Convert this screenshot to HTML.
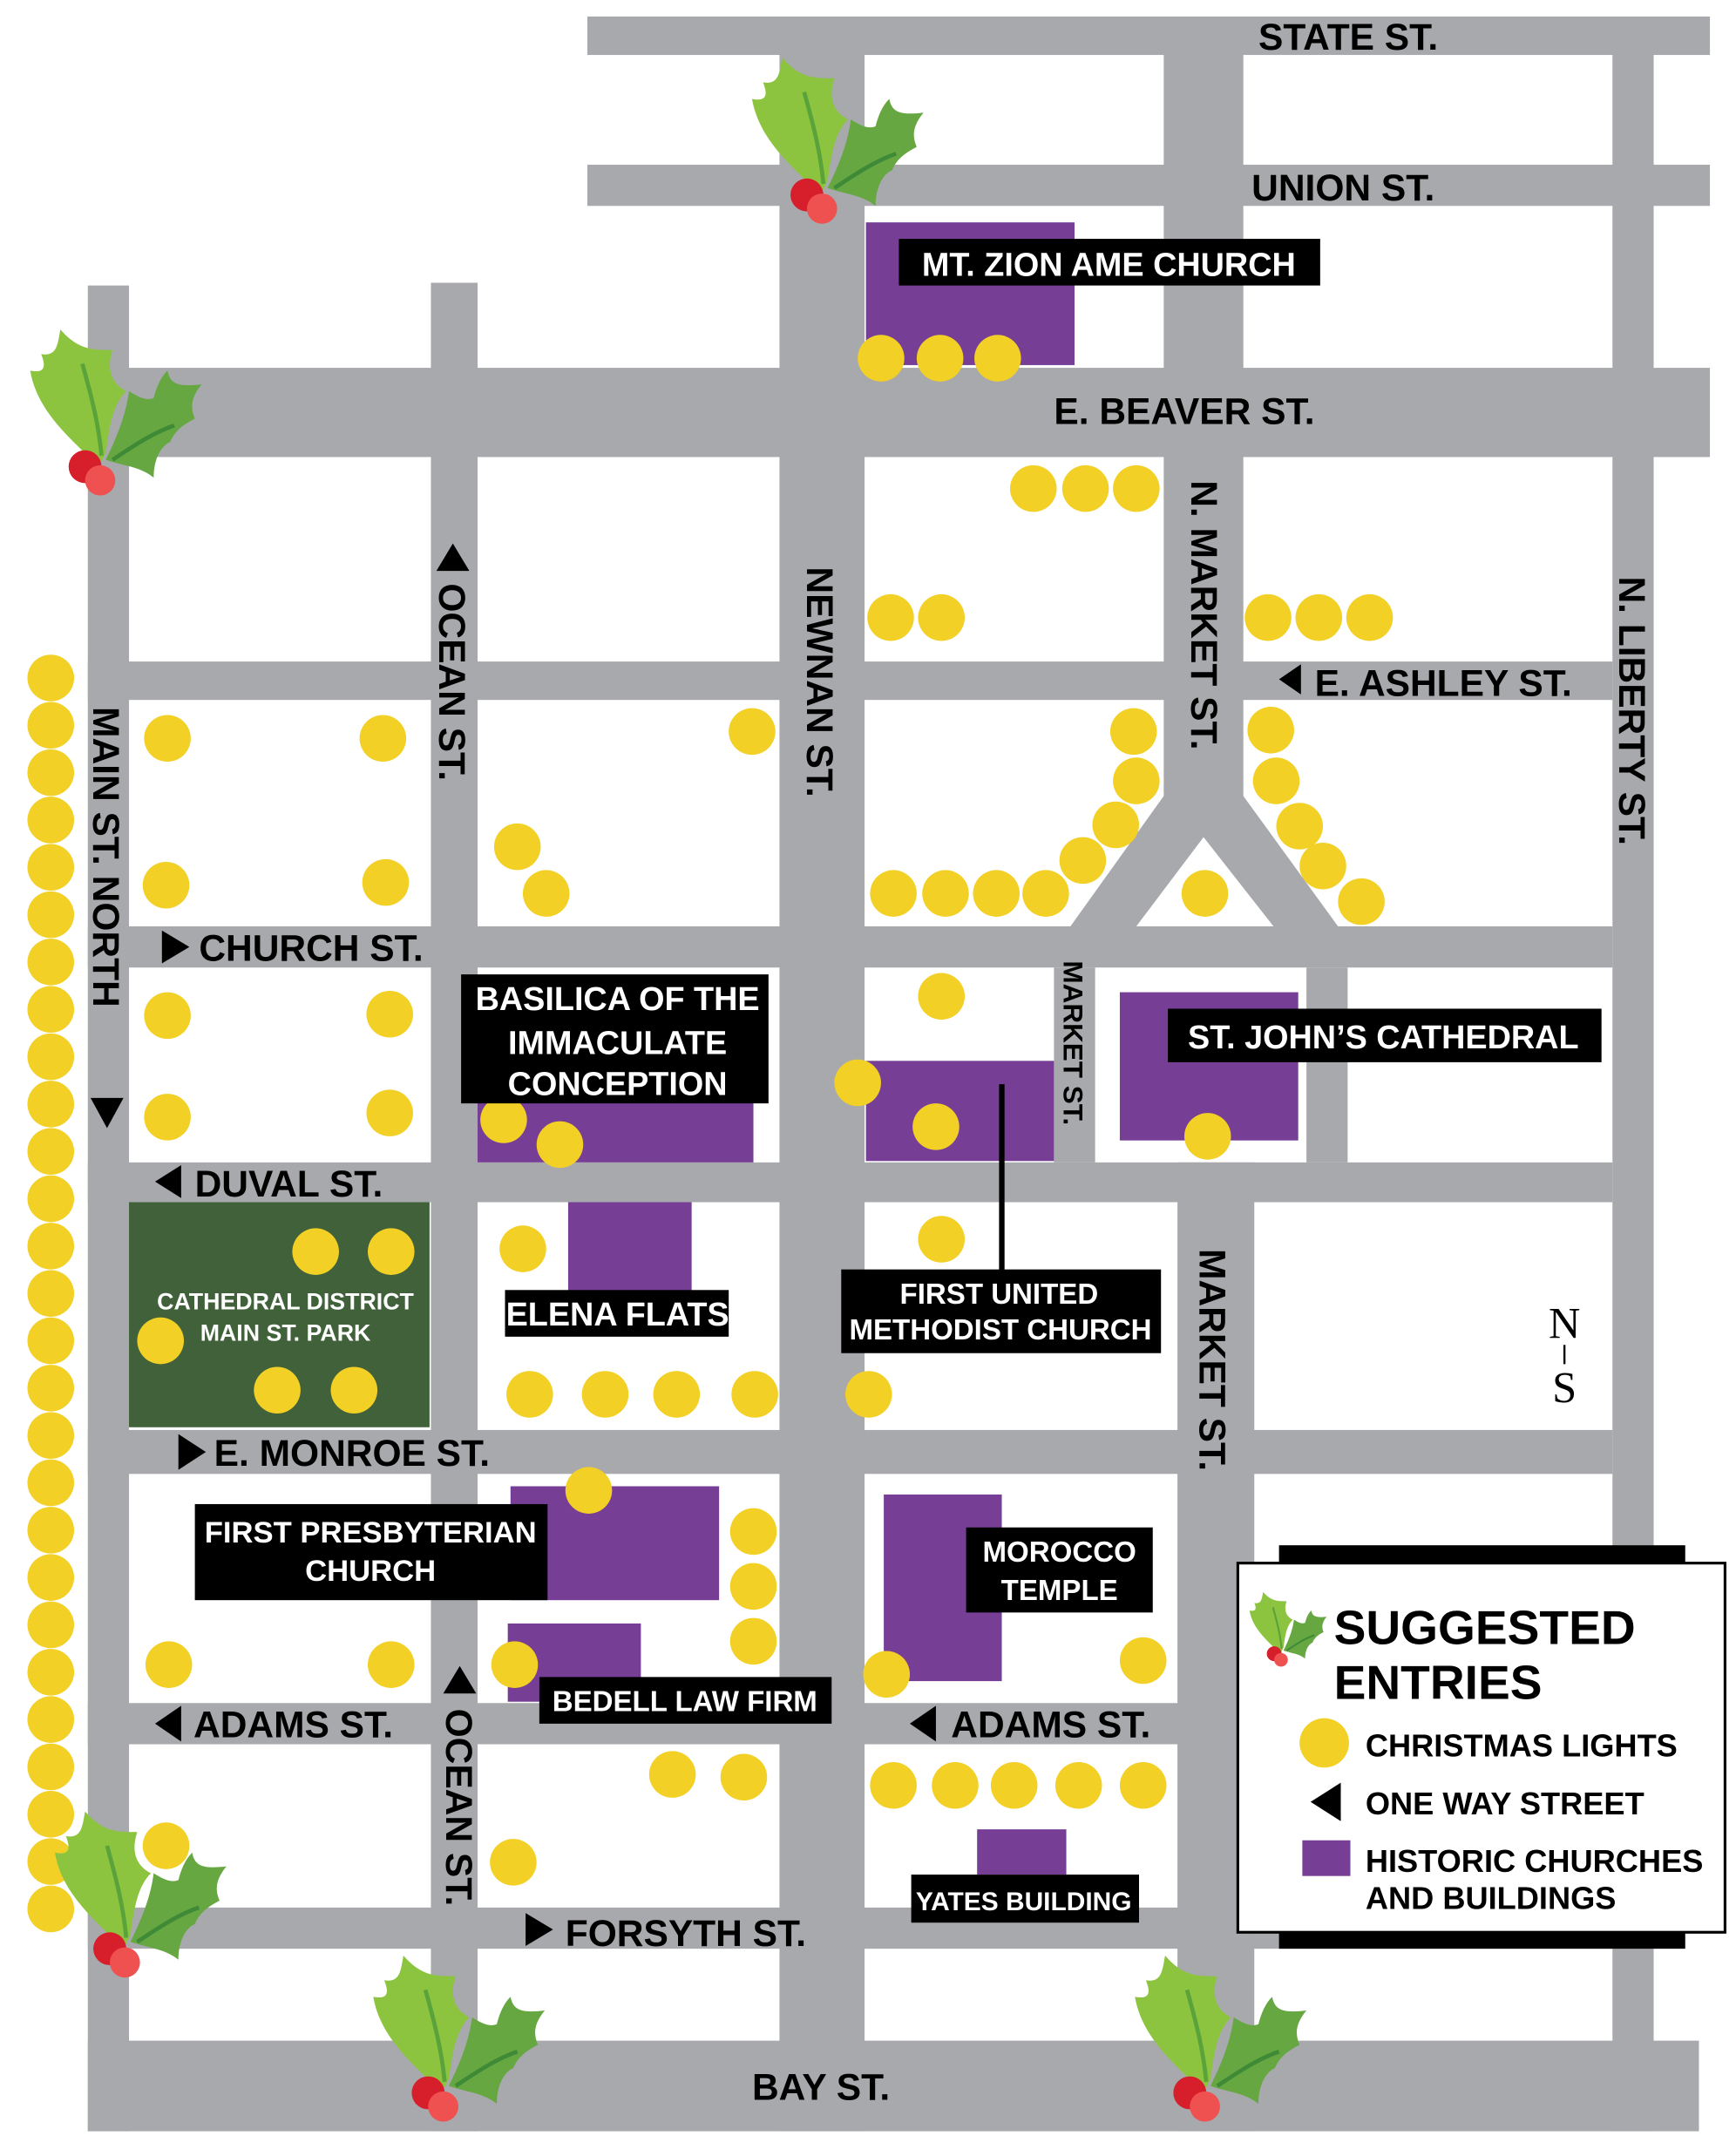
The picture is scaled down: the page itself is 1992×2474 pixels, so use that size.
<!DOCTYPE html>
<html><head><meta charset="utf-8"><style>
html,body{margin:0;padding:0;background:#fff}
svg{display:block}
text{font-family:"Liberation Sans",sans-serif;font-weight:bold}
</style></head><body>
<svg width="1992" height="2474" viewBox="0 0 1265 1571" xmlns="http://www.w3.org/2000/svg">
<defs>
<g id="holly">
<path d="M0,0 C-20,-20 -45,-40 -50,-70 C-40,-68 -38,-72 -42,-82 C-30,-80 -30,-90 -28,-100 C-15,-85 -5,-85 10,-85 C5,-70 10,-60 20,-55 C10,-45 8,-30 5,-10 Z" fill="#8cc440"/>
<path d="M-12,-75 C-5,-50 0,-30 2,-8" stroke="#5aa23a" stroke-width="3" fill="none"/>
<path d="M5,-5 C15,-25 20,-40 22,-55 C30,-50 35,-48 40,-50 C42,-58 45,-65 50,-70 C52,-60 58,-58 75,-60 C65,-48 68,-40 70,-35 C60,-30 55,-25 52,-18 C45,-15 40,-5 40,8 C30,0 20,0 5,-5 Z" fill="#66a742"/>
<path d="M10,-5 C25,-15 40,-25 55,-30" stroke="#3f8a36" stroke-width="3" fill="none"/>
<circle cx="-10" cy="0" r="12" fill="#d71f2c"/>
<circle cx="1" cy="10" r="11" fill="#ef5050"/>
</g>
</defs>
<g fill="#a7a9ac">
<rect x="428" y="12" width="818" height="28"/>
<rect x="428" y="120" width="818" height="30"/>
<rect x="64" y="268" width="1182" height="65"/>
<rect x="64" y="482" width="1111" height="28"/>
<rect x="64" y="675" width="1111" height="30"/>
<rect x="64" y="847" width="1111" height="29"/>
<rect x="64" y="1042" width="1111" height="32"/>
<rect x="64" y="1241" width="1111" height="30"/>
<rect x="64" y="1390" width="1111" height="30"/>
<rect x="64" y="1487" width="1174" height="66"/>
<rect x="64" y="208" width="30" height="1345"/>
<rect x="314" y="206" width="34" height="1347"/>
<rect x="568" y="12" width="62" height="1541"/>
<rect x="848" y="12" width="58" height="580"/>
<polygon points="848,580 906,580 975,675 928,675 877,610 828,675 780,675"/>
<rect x="768" y="705" width="30" height="142"/>
<rect x="952" y="705" width="30" height="142"/>
<rect x="858" y="847" width="56" height="706"/>
<rect x="1175" y="12" width="30" height="1541"/>
</g>
<rect x="94" y="876" width="219" height="164" fill="#40613a"/>
<g fill="#773e96">
<rect x="631" y="162" width="152" height="104"/>
<rect x="348" y="800" width="201" height="47"/>
<rect x="631" y="773" width="137" height="73"/>
<rect x="816" y="723" width="130" height="108"/>
<rect x="414" y="876" width="90" height="69"/>
<rect x="372" y="1083" width="152" height="83"/>
<rect x="370" y="1183" width="97" height="57"/>
<rect x="644" y="1089" width="86" height="136"/>
<rect x="712" y="1333" width="65" height="33"/>
</g>
<line x1="730" y1="790" x2="730" y2="926" stroke="#000" stroke-width="4"/>
<g fill="#f2d026">
<circle cx="37" cy="494" r="17"/><circle cx="37" cy="528.5" r="17"/><circle cx="37" cy="563" r="17"/><circle cx="37" cy="597.5" r="17"/><circle cx="37" cy="632" r="17"/><circle cx="37" cy="666.5" r="17"/><circle cx="37" cy="701" r="17"/><circle cx="37" cy="735.5" r="17"/><circle cx="37" cy="770" r="17"/><circle cx="37" cy="804.5" r="17"/><circle cx="37" cy="839" r="17"/><circle cx="37" cy="873.5" r="17"/><circle cx="37" cy="908" r="17"/><circle cx="37" cy="942.5" r="17"/><circle cx="37" cy="977" r="17"/><circle cx="37" cy="1011.5" r="17"/><circle cx="37" cy="1046" r="17"/><circle cx="37" cy="1080.5" r="17"/><circle cx="37" cy="1115" r="17"/><circle cx="37" cy="1149.5" r="17"/><circle cx="37" cy="1184" r="17"/><circle cx="37" cy="1218.5" r="17"/><circle cx="37" cy="1253" r="17"/><circle cx="37" cy="1287.5" r="17"/><circle cx="37" cy="1322" r="17"/><circle cx="37" cy="1356.5" r="17"/><circle cx="37" cy="1391" r="17"/>
<circle cx="642" cy="261" r="17"/><circle cx="685" cy="261" r="17"/><circle cx="727" cy="261" r="17"/>
<circle cx="753" cy="356" r="17"/><circle cx="791" cy="356" r="17"/><circle cx="828" cy="356" r="17"/>
<circle cx="649" cy="450" r="17"/><circle cx="686" cy="450" r="17"/>
<circle cx="924" cy="450" r="17"/><circle cx="961" cy="450" r="17"/><circle cx="998" cy="450" r="17"/>
<circle cx="122" cy="538" r="17"/><circle cx="279" cy="538" r="17"/><circle cx="548" cy="533" r="17"/>
<circle cx="121" cy="645" r="17"/><circle cx="281" cy="643" r="17"/>
<circle cx="377" cy="617" r="17"/><circle cx="398" cy="651" r="17"/>
<circle cx="826" cy="533" r="17"/><circle cx="828" cy="569" r="17"/><circle cx="813" cy="601" r="17"/><circle cx="789" cy="627" r="17"/><circle cx="762" cy="651" r="17"/><circle cx="726" cy="651" r="17"/><circle cx="689" cy="651" r="17"/><circle cx="651" cy="651" r="17"/>
<circle cx="926" cy="532" r="17"/><circle cx="930" cy="569" r="17"/><circle cx="947" cy="602" r="17"/><circle cx="964" cy="631" r="17"/><circle cx="992" cy="657" r="17"/>
<circle cx="878" cy="651" r="17"/>
<circle cx="122" cy="740" r="17"/><circle cx="284" cy="739" r="17"/><circle cx="122" cy="814" r="17"/><circle cx="284" cy="811" r="17"/>
<circle cx="686" cy="726" r="17"/><circle cx="625" cy="789" r="17"/><circle cx="682" cy="821" r="17"/>
<circle cx="367" cy="816" r="17"/><circle cx="408" cy="834" r="17"/>
<circle cx="880" cy="828" r="17"/>
<circle cx="230" cy="912" r="17"/><circle cx="285" cy="912" r="17"/><circle cx="117" cy="977" r="17"/><circle cx="202" cy="1013" r="17"/><circle cx="258" cy="1013" r="17"/>
<circle cx="381" cy="910" r="17"/><circle cx="386" cy="1016" r="17"/><circle cx="441" cy="1016" r="17"/><circle cx="493" cy="1016" r="17"/><circle cx="550" cy="1016" r="17"/><circle cx="633" cy="1016" r="17"/>
<circle cx="686" cy="903" r="17"/>
<circle cx="429" cy="1086" r="17"/><circle cx="549" cy="1116" r="17"/><circle cx="549" cy="1156" r="17"/><circle cx="549" cy="1196" r="17"/>
<circle cx="375" cy="1213" r="17"/><circle cx="123" cy="1213" r="17"/><circle cx="285" cy="1213" r="17"/>
<circle cx="646" cy="1220" r="17"/><circle cx="833" cy="1210" r="17"/>
<circle cx="490" cy="1293" r="17"/><circle cx="542" cy="1295" r="17"/>
<circle cx="651" cy="1301" r="17"/><circle cx="696" cy="1301" r="17"/><circle cx="739" cy="1301" r="17"/><circle cx="786" cy="1301" r="17"/><circle cx="833" cy="1301" r="17"/>
<circle cx="121" cy="1345" r="17"/><circle cx="374" cy="1357" r="17"/>
</g>
<g fill="#000">
<rect x="655" y="174" width="307" height="34"/>
<rect x="336" y="710" width="224" height="94"/>
<rect x="851" y="735" width="316" height="39"/>
<rect x="368" y="940" width="163" height="34"/>
<rect x="613" y="925" width="233" height="61"/>
<rect x="142" y="1096" width="257" height="70"/>
<rect x="393" y="1222" width="213" height="34"/>
<rect x="704" y="1113" width="136" height="62"/>
<rect x="664" y="1366" width="166" height="35"/>
</g>
<g fill="#fff" font-size="24" text-anchor="middle">
<text x="808" y="201">MT. ZION AME CHURCH</text>
<text x="450" y="736">BASILICA OF THE</text>
<text x="450" y="768">IMMACULATE</text>
<text x="450" y="798">CONCEPTION</text>
<text x="1008" y="764">ST. JOHN’S CATHEDRAL</text>
<text x="450" y="966">ELENA FLATS</text>
<text x="728" y="950" font-size="21">FIRST UNITED</text>
<text x="729" y="976" font-size="21">METHODIST CHURCH</text>
<text x="270" y="1124" font-size="22">FIRST PRESBYTERIAN</text>
<text x="270" y="1152" font-size="22">CHURCH</text>
<text x="499" y="1247" font-size="21">BEDELL LAW FIRM</text>
<text x="772" y="1138" font-size="21">MOROCCO</text>
<text x="772" y="1166" font-size="21">TEMPLE</text>
<text x="746" y="1392" font-size="19">YATES BUILDING</text>
<text x="208" y="954" font-size="17">CATHEDRAL DISTRICT</text>
<text x="208" y="977" font-size="17">MAIN ST. PARK</text>
</g>
<g fill="#000" font-size="27">
<text x="917" y="36">STATE ST.</text>
<text x="912" y="146">UNION ST.</text>
<text x="768" y="309">E. BEAVER ST.</text>
<text x="958" y="507">E. ASHLEY ST.</text>
<text x="145" y="700">CHURCH ST.</text>
<text x="142" y="872">DUVAL ST.</text>
<text x="156" y="1068">E. MONROE ST.</text>
<text x="141" y="1266">ADAMS ST.</text>
<text x="693" y="1266">ADAMS ST.</text>
<text x="412" y="1418">FORSYTH ST.</text>
<text x="548" y="1530">BAY ST.</text>
<text transform="translate(68,515) rotate(90)">MAIN ST. NORTH</text>
<text transform="translate(320,425) rotate(90)">OCEAN ST.</text>
<text transform="translate(325,1245) rotate(90)">OCEAN ST.</text>
<text transform="translate(588,413) rotate(90)">NEWNAN ST.</text>
<text transform="translate(868,350) rotate(90)">N. MARKET ST.</text>
<text transform="translate(775,700) rotate(90)" font-size="20">MARKET ST.</text>
<text transform="translate(874,910) rotate(90)">MARKET ST.</text>
<text transform="translate(1180,420) rotate(90)">N. LIBERTY ST.</text>
</g>
<g fill="#000">
<polygon points="948,484 948,506 932,495"/>
<polygon points="118,678 118,702 138,690"/>
<polygon points="132,849 132,873 113,861"/>
<polygon points="130,1045 130,1071 150,1058"/>
<polygon points="132,1243 132,1269 113,1256"/>
<polygon points="682,1243 682,1269 663,1256"/>
<polygon points="383,1394 383,1418 403,1406"/>
<polygon points="66,800 90,800 78,822"/>
<polygon points="318,416 342,416 330,396"/>
<polygon points="323,1234 347,1234 335,1214"/>
</g>
<g font-family="Liberation Serif" fill="#000">
<text x="1140" y="975" font-size="32" text-anchor="middle" style="font-family:'Liberation Serif',serif;font-weight:normal">N</text>
<line x1="1140" y1="980" x2="1140" y2="994" stroke="#000" stroke-width="1.5"/>
<text x="1140" y="1022" font-size="32" text-anchor="middle" style="font-family:'Liberation Serif',serif;font-weight:normal">S</text>
</g>
<rect x="932" y="1126" width="296" height="294" fill="#000"/>
<rect x="902" y="1139" width="355" height="269" fill="#fff" stroke="#000" stroke-width="2"/>
<text x="972" y="1198" font-size="35">SUGGESTED</text>
<text x="972" y="1238" font-size="35">ENTRIES</text>
<circle cx="965" cy="1270" r="18" fill="#f2d026"/>
<text x="995" y="1280" font-size="23">CHRISTMAS LIGHTS</text>
<polygon points="977,1299 977,1327 955,1313" fill="#000"/>
<text x="995" y="1322" font-size="23">ONE WAY STREET</text>
<rect x="949" y="1341" width="35" height="26" fill="#773e96"/>
<text x="995" y="1364" font-size="23">HISTORIC CHURCHES</text>
<text x="995" y="1391" font-size="23">AND BUILDINGS</text>
<use href="#holly" transform="translate(598,142)"/>
<use href="#holly" transform="translate(72,340)"/>
<use href="#holly" transform="translate(90,1420)"/>
<use href="#holly" transform="translate(322,1525)"/>
<use href="#holly" transform="translate(877,1525)"/>
<use href="#holly" transform="translate(933,1205) scale(0.45)"/>
</svg>
</body></html>
